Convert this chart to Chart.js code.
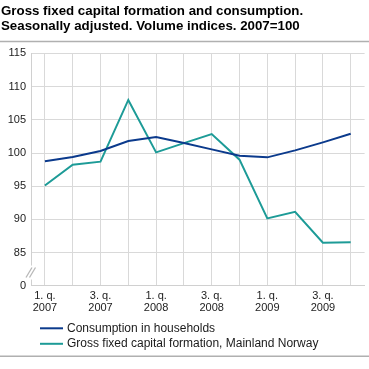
<!DOCTYPE html>
<html><head><meta charset="utf-8">
<script src="https://cdn.jsdelivr.net/npm/chart.js@4.4.1/dist/chart.umd.min.js"></script>
<style>html,body{margin:0;padding:0;background:#fff;}canvas{display:block;}</style>
</head><body>
<canvas id="c" width="369" height="369"></canvas>
<script>
const titleLines = ['Gross fixed capital formation and consumption.', 'Seasonally adjusted. Volume indices. 2007=100'];
const quarters = ['1. q.','2. q.','3. q.','4. q.','1. q.','2. q.','3. q.','4. q.','1. q.','2. q.','3. q.','4. q.'];
const years = ['2007','2007','2007','2007','2008','2008','2008','2008','2009','2009','2009','2009'];
const seriesNames = ['Consumption in households', 'Gross fixed capital formation, Mainland Norway'];
const consumption = [98.75, 99.4, 100.3, 101.8, 102.4, 101.5, 100.55, 99.6, 99.35, 100.4, 101.6, 102.9];
const grossFixed = [95.1, 98.25, 98.7, 108.0, 100.1, 101.5, 102.85, 99.0, 90.15, 91.15, 86.5, 86.55];
const seriesColors = ['#0b3a8c', '#1d9b97'];
const yMin = 80, yMax = 115, yStep = 5;
const yBreakLabel = {80: '0'};
const yBreakAt = 82;

const FONT = "'Liberation Sans', Arial, sans-serif";
const categories = quarters.map((q, i) => [q, years[i]]);

const decor = {
  id: 'decor',
  beforeDraw(chart) {
    const ctx = chart.ctx;
    ctx.save(); ctx.fillStyle = '#fff'; ctx.fillRect(0, 0, chart.width, chart.height); ctx.restore();
  },
  afterDraw(chart) {
    const ctx = chart.ctx, ca = chart.chartArea, ys = chart.scales.y;
    ctx.save();
    // separators
    ctx.strokeStyle = '#b0b0b0'; ctx.lineWidth = 1.5;
    ctx.beginPath(); ctx.moveTo(0, 41.5); ctx.lineTo(chart.width, 41.5); ctx.stroke();
    ctx.beginPath(); ctx.moveTo(0, ca.bottom + 70.5); ctx.lineTo(chart.width, ca.bottom + 70.5); ctx.stroke();
    // axis break
    const by = ys.getPixelForValue(yBreakAt);
    ctx.fillStyle = '#fff';
    ctx.fillRect(ca.left - 2, by - 7, 4, 14);
    ctx.strokeStyle = '#b8b8b8'; ctx.lineWidth = 1.3;
    for (const dx of [-2, 1.5]) {
      ctx.beginPath(); ctx.moveTo(ca.left - 3 + dx, by + 5); ctx.lineTo(ca.left + 3 + dx, by - 5); ctx.stroke();
    }
    // legend
    ctx.font = '12px ' + FONT; ctx.textBaseline = 'middle'; ctx.textAlign = 'left';
    chart.data.datasets.forEach((ds, i) => {
      const ry = ca.bottom + 42.5 + i * 15.5;
      ctx.strokeStyle = ds.borderColor; ctx.lineWidth = 2;
      ctx.beginPath(); ctx.moveTo(40, ry); ctx.lineTo(63, ry); ctx.stroke();
      ctx.fillStyle = '#1a1a1a';
      ctx.fillText(ds.label, 67, ry);
    });
    ctx.restore();
  }
};

new Chart(document.getElementById('c'), {
  type: 'line',
  data: {
    labels: categories,
    datasets: [
      { label: seriesNames[0], data: consumption, borderColor: seriesColors[0], backgroundColor: seriesColors[0], borderWidth: 2, pointRadius: 0, tension: 0, fill: false },
      { label: seriesNames[1], data: grossFixed, borderColor: seriesColors[1], backgroundColor: seriesColors[1], borderWidth: 2, pointRadius: 0, tension: 0, fill: false }
    ]
  },
  options: {
    responsive: false,
    animation: false,
    devicePixelRatio: 1,
    layout: { padding: { left: 1, right: 4.4, top: 0, bottom: 51 } },
    plugins: {
      legend: { display: false },
      tooltip: { enabled: false },
      title: {
        display: true, text: titleLines, align: 'start', color: '#000',
        font: { family: FONT, size: 13.3, weight: 'bold', lineHeight: 1.13 },
        padding: { top: 4, bottom: 19.4 }
      }
    },
    scales: {
      x: {
        offset: true,
        grid: { offset: false, drawTicks: false, color: '#d9d9d9', lineWidth: 1 },
        border: { display: true, color: '#d0d0d0' },
        ticks: {
          autoSkip: false, maxRotation: 0, padding: 4, color: '#222',
          font: { family: FONT, size: 11, lineHeight: 1.1 },
          callback: (v, i) => (i % 2 === 0 ? categories[i] : '')
        }
      },
      y: {
        min: yMin, max: yMax,
        afterFit(s) { s.width = 30; },
        grid: { drawTicks: false, color: '#d9d9d9', lineWidth: 1 },
        border: { display: true, color: '#d0d0d0' },
        ticks: {
          stepSize: yStep, padding: 5, color: '#222',
          font: { family: FONT, size: 11 },
          callback: v => (yBreakLabel[v] !== undefined ? yBreakLabel[v] : String(v))
        }
      }
    }
  },
  plugins: [decor]
});
</script>
</body></html>
